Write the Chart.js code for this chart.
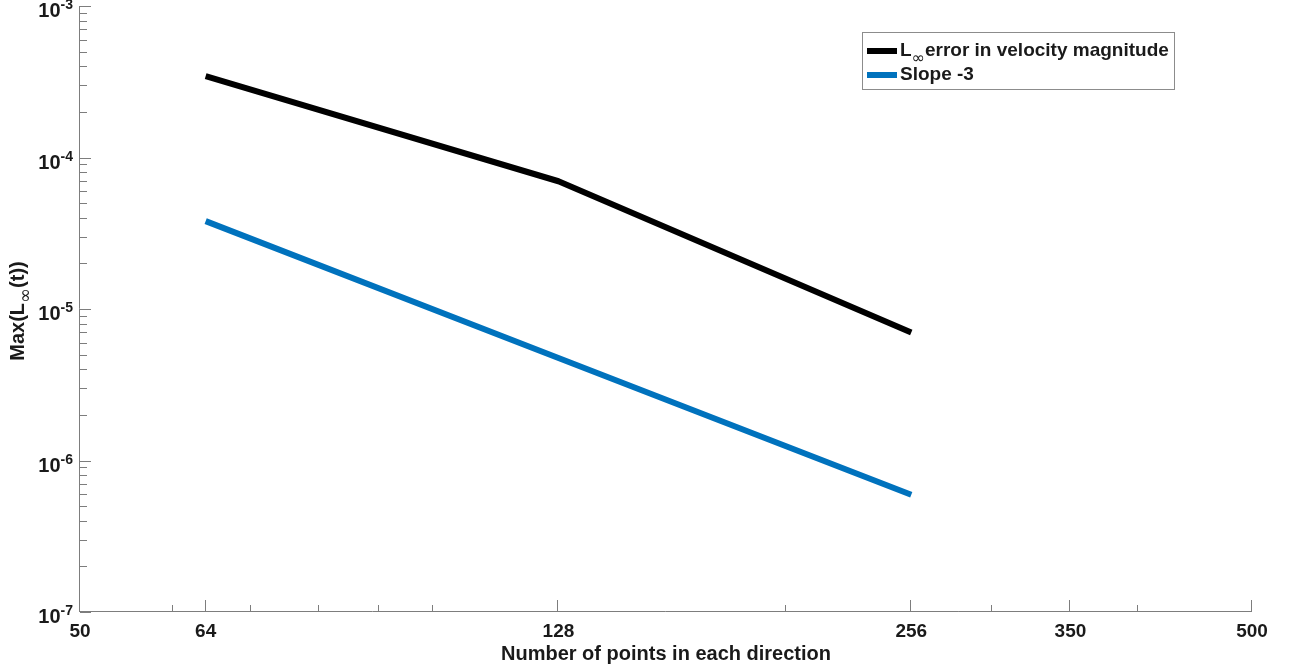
<!DOCTYPE html>
<html>
<head>
<meta charset="utf-8">
<script src="https://cdn.jsdelivr.net/npm/chart.js@4.4.1/dist/chart.umd.min.js"></script>
<style>
  html, body { margin: 0; padding: 0; background: #fff; }
  #wrap { width: 1303px; height: 670px; }
</style>
</head>
<body>
<div id="wrap"><canvas id="convChart"></canvas></div>
<script>
const gridSizes = [64, 128, 256];
const errorValues = [3.44e-4, 6.97e-5, 7.0e-6];
const slopeValues = [3.8e-5, 4.75e-6, 5.94e-7];

// axis ticks (MATLAB style: labelled majors + unlabelled minors)
const xMajorTicks = [50, 64, 128, 256, 350, 500];
const xMinorTicks = [60, 70, 80, 90, 100, 200, 300, 400];
const yDecades = [1e-7, 1e-6, 1e-5, 1e-4, 1e-3];

// text pieces; sub: true means drawn as a subscript
const errorLabel = [{ t: 'L' }, { t: '\u221E', sub: true }, { t: 'error in velocity magnitude' }];
const slopeLabel = [{ t: 'Slope -3' }];
const yTitle = [{ t: 'Max(L' }, { t: '\u221E', sub: true }, { t: '(t))' }];
const xTitle = 'Number of points in each direction';

const FONT = "'Liberation Sans', Arial, Helvetica, sans-serif";
const SUB_FONT = "'DejaVu Sans', 'Liberation Sans', sans-serif";
const TEXT_COLOR = '#1a1a1a';
const AXIS_COLOR = '#7d7d7d';

Chart.defaults.font.family = FONT;
Chart.defaults.color = TEXT_COLOR;

function toPoints(xs, ys) {
    return xs.map((x, i) => ({ x: x, y: ys[i] }));
}

function partFont(p, size, subSize) {
    return p.sub ? `${subSize}px ${SUB_FONT}` : `bold ${size}px ${FONT}`;
}

// width of a run of text with optional subscripts
function partsWidth(ctx, parts, size, subSize) {
    let w = 0;
    parts.forEach(p => {
        ctx.font = partFont(p, size, subSize);
        w += ctx.measureText(p.t).width;
    });
    return w;
}

function drawParts(ctx, parts, x, y, size, subSize, subDrop) {
    ctx.textBaseline = 'middle';
    ctx.textAlign = 'left';
    parts.forEach(p => {
        ctx.font = partFont(p, size, subSize);
        ctx.fillText(p.t, x, p.sub ? y + subDrop : y);
        x += ctx.measureText(p.t).width;
    });
}

const matlabAxes = {
    id: 'matlabAxes',
    beforeDatasetsDraw(chart) {
        const ctx = chart.ctx;
        const { left, right, top, bottom } = chart.chartArea;
        const xs = chart.scales.x;
        const ys = chart.scales.y;
        ctx.save();
        ctx.strokeStyle = AXIS_COLOR;
        ctx.lineWidth = 1;

        // spines (left and bottom only)
        ctx.beginPath();
        ctx.moveTo(left - 0.5, top);
        ctx.lineTo(left - 0.5, bottom - 0.5);
        ctx.lineTo(right, bottom - 0.5);
        ctx.stroke();

        // x ticks, pointing inward
        ctx.beginPath();
        xMajorTicks.concat(xMinorTicks).forEach(v => {
            const px = Math.round(xs.getPixelForValue(v)) - 0.5;
            const len = xMajorTicks.includes(v) ? 12 : 7;
            ctx.moveTo(px, bottom);
            ctx.lineTo(px, bottom - len);
        });
        ctx.stroke();

        // y ticks: decades long, 2..9 short
        ctx.beginPath();
        yDecades.forEach((d, i) => {
            const py = Math.round(ys.getPixelForValue(d)) + 0.5;
            ctx.moveTo(left, py);
            ctx.lineTo(left + 11, py);
            if (i < yDecades.length - 1) {
                for (let k = 2; k <= 9; k++) {
                    const pk = Math.round(ys.getPixelForValue(d * k)) + 0.5;
                    ctx.moveTo(left, pk);
                    ctx.lineTo(left + 7, pk);
                }
            }
        });
        ctx.stroke();

        // y tick labels 10^n with superscript exponent
        ctx.fillStyle = TEXT_COLOR;
        yDecades.forEach(d => {
            const py = ys.getPixelForValue(d);
            const exp = String(Math.round(Math.log10(d)));
            ctx.font = `bold 14px ${FONT}`;
            ctx.textAlign = 'right';
            ctx.textBaseline = 'alphabetic';
            const expW = ctx.measureText(exp).width;
            ctx.fillText(exp, left - 7, py + 3);
            ctx.font = `bold 20px ${FONT}`;
            ctx.fillText('10', left - 7 - expW, py + 11);
        });

        // rotated y title with subscript
        ctx.save();
        ctx.translate(18, (top + bottom) / 2 + 2);
        ctx.rotate(-Math.PI / 2);
        const w = partsWidth(ctx, yTitle, 20, 18);
        drawParts(ctx, yTitle, -w / 2, 0, 20, 18, 8);
        ctx.restore();

        ctx.restore();
    },
    afterDraw(chart) {
        const ctx = chart.ctx;
        const { right, top } = chart.chartArea;
        const bx = right - 390, by = top + 26, bw = 312, bh = 57;
        ctx.save();
        ctx.fillStyle = '#ffffff';
        ctx.fillRect(bx, by, bw, bh);
        ctx.strokeStyle = '#8c8c8c';
        ctx.lineWidth = 1;
        ctx.strokeRect(bx + 0.5, by + 0.5, bw, bh);

        chart.data.datasets.forEach((ds, i) => {
            const ry = by + 19 + i * 24;
            ctx.strokeStyle = ds.borderColor;
            ctx.lineWidth = 6;
            ctx.beginPath();
            ctx.moveTo(bx + 5, ry);
            ctx.lineTo(bx + 35, ry);
            ctx.stroke();
            ctx.fillStyle = TEXT_COLOR;
            drawParts(ctx, ds.legendParts, bx + 38, ry, 19, 16, 8);
        });
        ctx.restore();
    }
};

const ctx = document.getElementById('convChart').getContext('2d');
const convChart = new Chart(ctx, {
    type: 'line',
    data: {
        datasets: [{
            label: 'L\u221E error in velocity magnitude',
            legendParts: errorLabel,
            data: toPoints(gridSizes, errorValues),
            borderColor: '#000000',
            borderWidth: 6,
            pointRadius: 0,
            tension: 0,
            borderJoinStyle: 'round'
        },
        {
            label: 'Slope -3',
            legendParts: slopeLabel,
            data: toPoints(gridSizes, slopeValues),
            borderColor: '#0072BD',
            borderWidth: 6,
            pointRadius: 0,
            tension: 0,
            borderJoinStyle: 'round'
        }]
    },
    options: {
        responsive: true,
        maintainAspectRatio: false,
        animation: false,
        layout: {
            padding: { top: 6, right: 51, bottom: 0, left: 0 }
        },
        plugins: {
            legend: { display: false },
            tooltip: { enabled: false }
        },
        scales: {
            x: {
                type: 'logarithmic',
                min: 50,
                max: 500,
                grid: { display: false },
                border: { display: false },
                afterBuildTicks(scale) {
                    scale.ticks = xMajorTicks.concat(xMinorTicks)
                        .sort((a, b) => a - b)
                        .map(v => ({ value: v }));
                },
                afterFit(scale) {
                    scale.height = 58;
                },
                ticks: {
                    autoSkip: false,
                    maxRotation: 0,
                    minRotation: 0,
                    padding: 0,
                    color: TEXT_COLOR,
                    font: { size: 19, weight: 'bold' },
                    callback: v => xMajorTicks.includes(v) ? String(v) : ''
                },
                title: {
                    display: true,
                    text: xTitle,
                    color: TEXT_COLOR,
                    font: { size: 20, weight: 'bold' },
                    padding: { top: 0, bottom: 4 }
                }
            },
            y: {
                type: 'logarithmic',
                min: 1e-7,
                max: 1e-3,
                grid: { display: false },
                border: { display: false },
                ticks: { display: false },
                afterFit(scale) {
                    scale.width = 80;
                }
            }
        }
    },
    plugins: [matlabAxes]
});
</script>
</body>
</html>
